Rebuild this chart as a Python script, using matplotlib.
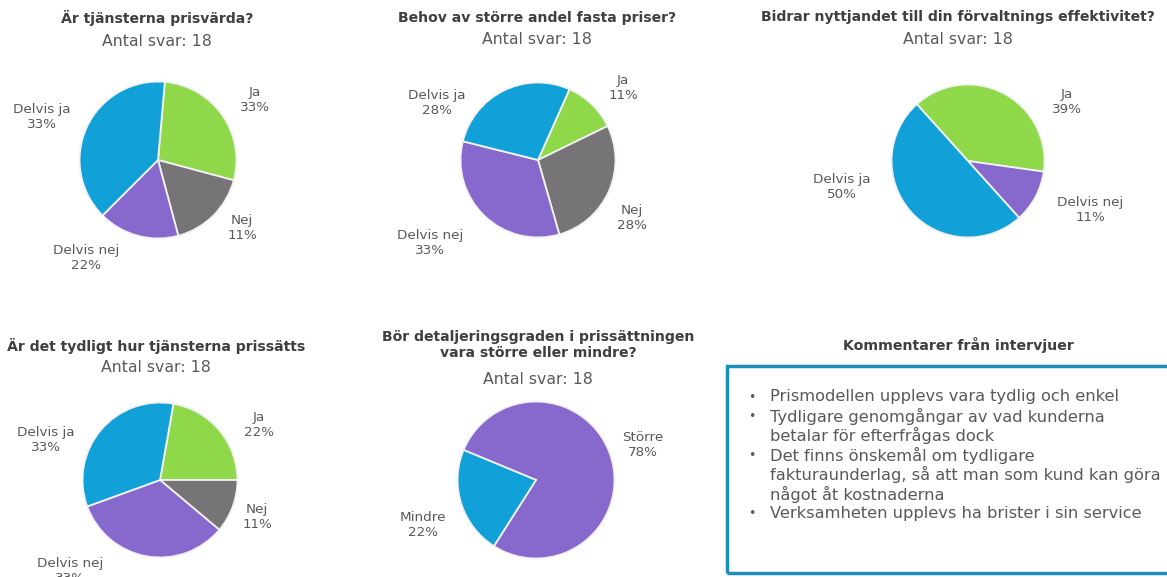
import matplotlib
matplotlib.use('Agg')
import matplotlib.pyplot as plt
from matplotlib.patches import Rectangle

# figure size in pixels
W, H = 1167, 577

# colours per answer
colors = {
    'Ja': '#8ED84A',
    'Nej': '#767476',
    'Delvis nej': '#8769CD',
    'Delvis ja': '#11A0D8',
    'Större': '#8769CD',
    'Mindre': '#11A0D8',
}

subtitle = 'Antal svar: 18'

# question 1
q1_title = 'Är tjänsterna prisvärda?'
q1_answers = ['Ja', 'Nej', 'Delvis nej', 'Delvis ja']
q1_counts = [5, 3, 3, 7]
q1_pct = ['33%', '11%', '22%', '33%']

# question 2
q2_title = 'Behov av större andel fasta priser?'
q2_answers = ['Ja', 'Nej', 'Delvis nej', 'Delvis ja']
q2_counts = [2, 5, 6, 5]
q2_pct = ['11%', '28%', '33%', '28%']

# question 3
q3_title = 'Bidrar nyttjandet till din förvaltnings effektivitet?'
q3_answers = ['Ja', 'Delvis nej', 'Delvis ja']
q3_counts = [7, 2, 9]
q3_pct = ['39%', '11%', '50%']

# question 4
q4_title = 'Är det tydligt hur tjänsterna prissätts'
q4_answers = ['Ja', 'Nej', 'Delvis nej', 'Delvis ja']
q4_counts = [4, 2, 6, 6]
q4_pct = ['22%', '11%', '33%', '33%']

# question 5
q5_title = 'Bör detaljeringsgraden i prissättningen\nvara större eller mindre?'
q5_answers = ['Större', 'Mindre']
q5_counts = [14, 4]
q5_pct = ['78%', '22%']

# comments
comments_title = 'Kommentarer från intervjuer'
comments = [
    'Prismodellen upplevs vara tydlig och enkel',
    'Tydligare genomgångar av vad kunderna\nbetalar för efterfrågas dock',
    'Det finns önskemål om tydligare\nfakturaunderlag, så att man som kund kan göra\nnågot åt kostnaderna',
    'Verksamheten upplevs ha brister i sin service',
]

title_color = '#3F3F3F'
text_color = '#595959'
plt.rcParams['font.family'] = ['DejaVu Sans']

fig = plt.figure(figsize=(W / 100, H / 100), dpi=100)


def fx(x):
    return x / W


def fy(y):
    return 1 - y / H


def draw_pie(cx, cy, r, answers, counts, pct, start, label_pos):
    ax = fig.add_axes([fx(cx - r), fy(cy + r), 2 * r / W, 2 * r / H])
    ax.pie(counts, colors=[colors[a] for a in answers], startangle=start,
           counterclock=False, radius=1,
           wedgeprops=dict(edgecolor='#F2F2F2', linewidth=1.3))
    ax.set_xlim(-1.02, 1.02)
    ax.set_ylim(-1.02, 1.02)
    ax.set_aspect('auto')
    ax.axis('off')
    for a, p, (lx, ly) in zip(answers, pct, label_pos):
        fig.text(fx(lx), fy(ly), a + '\n' + p, ha='center', va='center',
                 fontsize=9.7, color=text_color, linespacing=1.15)


def draw_title(x, y, title, sub_y):
    fig.text(fx(x), fy(y), title, ha='center', va='center', fontsize=10.1,
             fontweight='bold', color=title_color, linespacing=1.15)
    fig.text(fx(x), fy(sub_y), subtitle, ha='center', va='center',
             fontsize=11.3, color=text_color)


# top row
draw_title(157, 18, q1_title, 42)
draw_pie(158, 160, 80, q1_answers, q1_counts, q1_pct, 85,
         [(255, 100), (242, 228), (86, 258), (42, 117)])

draw_title(537, 18, q2_title, 40)
draw_pie(538, 160, 79, q2_answers, q2_counts, q2_pct, 66,
         [(623, 88), (632, 218), (430, 243), (437, 103)])

draw_title(958, 17, q3_title, 40)
draw_pie(968, 161, 78, q3_answers, q3_counts, q3_pct, 132,
         [(1067, 102), (1090, 210), (842, 187)])

# bottom row
draw_title(156, 346, q4_title, 367)
draw_pie(160, 480, 79, q4_answers, q4_counts, q4_pct, 80,
         [(259, 425), (257, 517), (70, 571), (46, 440)])

draw_title(538, 345, q5_title, 380)
draw_pie(536, 480, 80, q5_answers, q5_counts, q5_pct, 157.5,
         [(643, 445), (423, 525)])

# comments box
fig.text(fx(958), fy(345), comments_title, ha='center', va='center',
         fontsize=10.2, fontweight='bold', color=title_color)
fig.patches.append(Rectangle((fx(727), fy(573)), fx(1180 - 727), (573 - 366) / H,
                             transform=fig.transFigure, fill=False,
                             edgecolor='#1A8FB9', linewidth=2.5))

y = 397
for c in comments:
    fig.text(fx(748), fy(y), '•', ha='left', va='center', fontsize=9,
             color=text_color)
    for line in c.split('\n'):
        fig.text(fx(770), fy(y), line, ha='left', va='center', fontsize=11.7,
                 color=text_color)
        y += 19.4

fig.savefig('out.png', dpi=100)
